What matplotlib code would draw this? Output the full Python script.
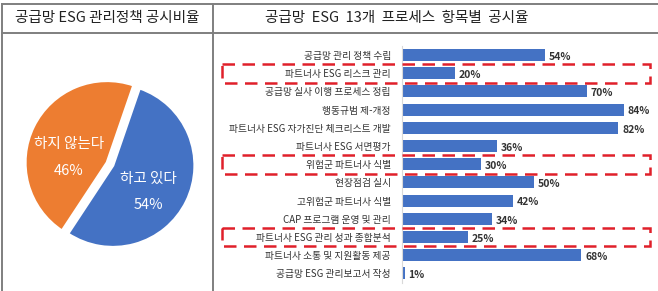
import matplotlib.pyplot as plt
import matplotlib.transforms as mtransforms
from matplotlib.patches import Rectangle
from matplotlib.lines import Line2D

plt.rcParams['font.family'] = ['Noto Sans CJK KR', 'DejaVu Sans']

# 왼쪽 원그래프 데이터
pie_labels = ['하지 않는다', '하고 있다']
pie_values = [46, 54]
pie_colors = ['#ED7D31', '#4472C4']

# 오른쪽 막대그래프 데이터
items = ['공급망 관리 정책 수립', '파트너사 ESG 리스크 관리', '공급망 실사 이행 프로세스 정립',
         '행동규범 제-개정', '파트너사 ESG 자가진단 체크리스트 개발', '파트너사 ESG 서면평가',
         '위험군 파트너사 식별', '현장점검 실시', '고위험군 파트너사 식별',
         'CAP 프로그램 운영 및 관리', '파트너사 ESG 관리 성과 종합분석',
         '파트너사 소통 및 지원활동 제공', '공급망 ESG 관리보고서 작성']
rates = [54, 20, 70, 84, 82, 36, 30, 50, 42, 34, 25, 68, 1]
highlight = [1, 6, 10]

W, H = 658, 291
fig = plt.figure(figsize=(W / 100, H / 100), dpi=100)

# 표 테두리
grey = '#7f7f7f'
def fx(px):
    return px / W
def fy(py):
    return 1 - py / H
for seg in [((fx(2), fx(658)), (fy(4), fy(4))),
            ((fx(2), fx(658)), (fy(33), fy(33))),
            ((fx(2), fx(2)), (fy(4), fy(291))),
            ((fx(213), fx(213)), (fy(4), fy(291)))]:
    fig.add_artist(Line2D(seg[0], seg[1], color=grey, lw=1.4, transform=fig.transFigure))

fig.text(fx(107), fy(18), '공급망 ESG 관리정책 공시비율', ha='center', va='center',
         fontsize=10.5, color='#222222')
fig.text(fx(397), fy(18), '공급망  ESG  13개  프로세스  항목별  공시율', ha='center', va='center',
         fontsize=10.5, color='#222222')

# 원그래프
ax1 = fig.add_axes([fx(20), fy(254), fx(180), 180 / H])
wedges, _ = ax1.pie(pie_values, colors=pie_colors, startangle=71, counterclock=True,
                    explode=[0.04, 0.04], radius=1.0,
                    wedgeprops=dict(edgecolor='white', linewidth=2.0))
ax1.set_aspect('equal')
ax1.set_xlim(-1.1, 1.1)
ax1.set_ylim(-1.1, 1.1)
ax1.text(-0.5, 0.24, pie_labels[0], color='white', ha='center', va='center', fontsize=10.5)
ax1.text(-0.5, -0.08, f'{pie_values[0]}%', color='white', ha='center', va='center', fontsize=10.5)
ax1.text(0.47, -0.18, pie_labels[1], color='white', ha='center', va='center', fontsize=10.5)
ax1.text(0.47, -0.5, f'{pie_values[1]}%', color='white', ha='center', va='center', fontsize=10.5)

# 막대그래프
row = 18.2
top = 55 - row / 2
ax2 = fig.add_axes([fx(402), fy(top + row * len(items)), fx(256), row * len(items) / H])
y = list(range(len(items)))
ax2.barh(y, rates, height=0.66, color='#4472C4')
ax2.set_xlim(0, 97)
ax2.set_ylim(len(items) - 0.5, -0.5)
ax2.set_yticks(y)
ax2.set_yticklabels(items, fontsize=7, color='#333333')
ax2.tick_params(axis='y', length=0, pad=8)
ax2.set_xticks([])
for s in ['top', 'right', 'bottom']:
    ax2.spines[s].set_visible(False)
ax2.spines['left'].set_color('#d9d9d9')
for yi, v in zip(y, rates):
    ax2.text(v + 1.5, yi + 0.1, f'{v}%', va='center', ha='left', fontsize=7.5,
             fontweight='bold', color='#333333')

# 빨간 점선 강조
trans = mtransforms.blended_transform_factory(fig.transFigure, ax2.transData)
for i in highlight:
    fig.add_artist(Rectangle((fx(222), i - 0.52), fx(428), 1.04, transform=trans,
                             fill=False, edgecolor='#e0202a', lw=1.8,
                             linestyle=(0, (5, 3))))

fig.savefig('out.png', dpi=100)
